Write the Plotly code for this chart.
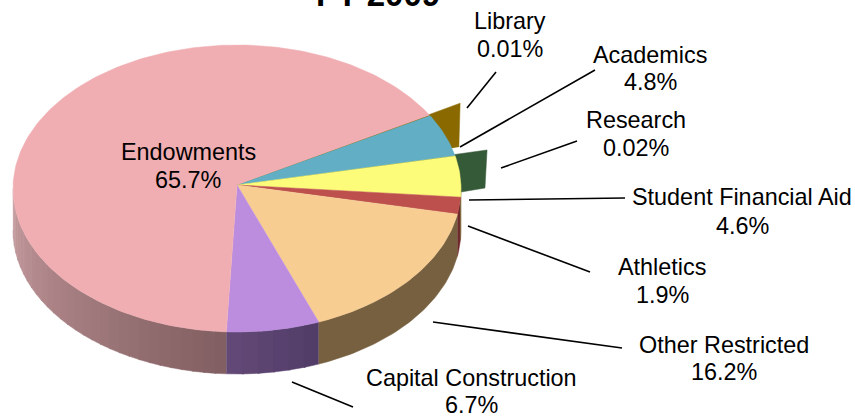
import math
import plotly.graph_objects as go

# ---- data ----
categories = ["Library", "Academics", "Research", "Student Financial Aid",
              "Athletics", "Other Restricted", "Capital Construction", "Endowments"]
percents = [0.01, 4.8, 0.02, 4.6, 1.9, 16.2, 6.7, 65.7]
percent_labels = ["0.01%", "4.8%", "0.02%", "4.6%", "1.9%", "16.2%", "6.7%", "65.7%"]

# ---- style / layout ----
top_colors = {"Library": "#8a6a00", "Academics": "#62afc5", "Research": "#355a38",
              "Student Financial Aid": "#fdfb7a", "Athletics": "#bd504c",
              "Other Restricted": "#f7cd92", "Capital Construction": "#bc8ddf",
              "Endowments": "#f0aeb2"}
FONT = "Liberation Sans, Arial, sans-serif"
APEX = (237, 185)
ECX, ECY, RX, RY = 237, 188.5, 224, 143.5
DEPTH = 42
START = 30.5   # parametric angle where the first slice begins, going clockwise
TOTAL = 100

label_pos = {"Library": (510, 20.5, 48.5), "Academics": (650, 55, 82), "Research": (636, 120, 148),
             "Student Financial Aid": (742, 197, 226), "Athletics": (662, 267, 295),
             "Other Restricted": (724, 345, 372), "Capital Construction": (471, 378, 405),
             "Endowments": (188, 152, 180)}
leaders = [((467, 108), (496, 72)), ((460, 147), (595, 70)), ((501, 168), (577, 141)),
           ((469, 200), (625, 198)), ((468, 226), (590, 272)), ((433, 322), (622, 348)),
           ((292, 382), (353, 407))]
# exploded slivers sit behind the disc: (rim angle, reach) of their visible corners
sliver_corners = {"Library": [(31.0, 1.162), (16.3, 1.032)],
                  "Research": [(13.7, 1.149), (0.3, 1.107), (-1.4, 1.0)]}


def rim(t, f=1.0):
    r = math.radians(t)
    x, y = ECX + RX * math.cos(r), ECY - RY * math.sin(r)
    return APEX[0] + f * (x - APEX[0]), APEX[1] + f * (y - APEX[1])


def arc(a, b):
    n = max(2, int(abs(b - a)) + 2)
    return [rim(a + (b - a) * i / (n - 1)) for i in range(n)]


def poly(points, color):
    return go.Scatter(x=[p[0] for p in points], y=[p[1] for p in points], mode="lines",
                      fill="toself", fillcolor=color, line=dict(color=color, width=0.5),
                      hoverinfo="skip", showlegend=False)


def wall(a, b, color):
    top = arc(a, b)
    return poly(top + [(x, y + DEPTH) for x, y in reversed(top)], color)


def lerp(c1, c2, u):
    return "rgb(%d,%d,%d)" % tuple(round(p + (q - p) * u) for p, q in zip(c1, c2))


spans, t = {}, START
for name, pct in zip(categories, percents):
    spans[name] = (t, t - pct / TOTAL * 360)
    t = spans[name][1]

traces = []
for name, corners in sliver_corners.items():
    traces.append(poly([APEX] + [rim(a, f) for a, f in corners], top_colors[name]))

# side wall, front half only
end_pink = spans["Endowments"][0]
steps = 30
for i in range(steps):
    a = -180 + (end_pink + 180) * i / steps
    b = -180 + (end_pink + 180) * (i + 1) / steps + 0.3
    traces.append(wall(a, min(b, end_pink), lerp((198, 155, 158), (130, 95, 98), i / (steps - 1))))
cap_a, cap_b = spans["Capital Construction"]
for i in range(6):
    a = cap_b + (cap_a - cap_b) * i / 6
    b = min(cap_a, cap_b + (cap_a - cap_b) * (i + 1) / 6 + 0.4)
    traces.append(wall(a, b, lerp((98, 72, 118), (82, 61, 104), i / 5)))
traces.append(wall(spans["Other Restricted"][1], spans["Other Restricted"][0], "#766040"))
traces.append(wall(spans["Athletics"][1], spans["Athletics"][0], "#6e2a2a"))
traces.append(wall(spans["Student Financial Aid"][1], 0, "#7b7a3a"))

# top faces
for name in categories:
    a, b = spans[name]
    if name in sliver_corners:
        continue
    traces.append(poly([APEX] + arc(a, b), top_colors[name]))

fig = go.Figure(traces)

annotations = [dict(x=378, y=7, text="<b>FY 2009</b>", showarrow=False, xanchor="center",
                    yanchor="bottom", yshift=-8, font=dict(family=FONT, size=33, color="black"))]
for name, txt in zip(categories, percent_labels):
    x, y1, y2 = label_pos[name]
    annotations.append(dict(x=x, y=y1, text=name, showarrow=False, xanchor="center",
                            yanchor="middle", font=dict(family=FONT, size=23.4, color="black")))
    annotations.append(dict(x=x, y=y2, text=txt, showarrow=False, xanchor="center",
                            yanchor="middle", font=dict(family=FONT, size=23.4, color="black")))

shapes = [dict(type="line", x0=p[0], y0=p[1], x1=q[0], y1=q[1], layer="above",
               line=dict(color="black", width=1.6)) for p, q in leaders]

fig.update_layout(width=855, height=417, margin=dict(l=0, r=0, t=0, b=0),
                  paper_bgcolor="white", plot_bgcolor="white", showlegend=False,
                  annotations=annotations, shapes=shapes,
                  xaxis=dict(range=[0, 855], visible=False, fixedrange=True),
                  yaxis=dict(range=[417, 0], visible=False, fixedrange=True))
fig.write_html("out.html", config=dict(displayModeBar=False),
               post_script="document.body.style.margin='0';document.body.style.overflow='hidden';")
